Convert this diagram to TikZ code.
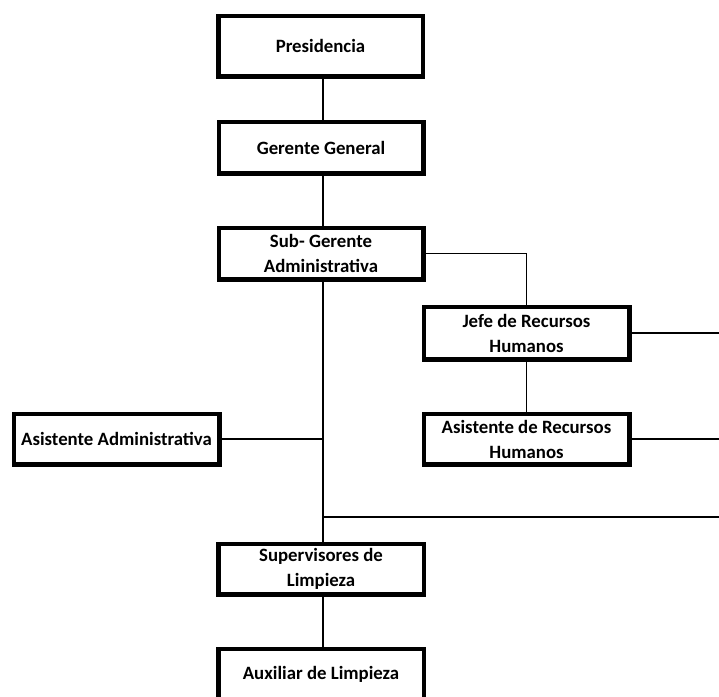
\documentclass[tikz,border=0pt]{standalone}
\usepackage{fontspec}
\setmainfont{Carlito}
\begin{document}
\begin{tikzpicture}[x=1pt,y=-1pt,
  post/.style={draw=black, line width=3pt, fill=white, inner sep=0pt,
    align=center, font=\bfseries\fontsize{18.8}{25}\selectfont,
    minimum width=#1},
  post/.default=203pt,
  link/.style={draw=black, line width=1.3pt}]
\useasboundingbox (0,0) rectangle (719,696);
\clip (0,0) rectangle (719,696);

% boxes of the chart
\node[post, minimum height=59pt] (pres) at (320.5,46) {Presidencia};
\node[post, minimum height=50pt] (gg) at (321,147.5) {Gerente General};
\node[post, minimum height=50pt] (sg) at (321,253.5) {Sub- Gerente\\Administrativa};
\node[post=204pt, minimum height=51pt] (jefe) at (526.5,333) {Jefe de Recursos\\Humanos};
\node[post=204pt, minimum height=49pt] (arh) at (526.5,439) {Asistente de Recursos\\Humanos};
\node[post=204pt, minimum height=49pt] (aa) at (116.5,439) {Asistente Administrativa};
\node[post=204pt, minimum height=49pt] (sup) at (321,569) {Supervisores de\\Limpieza};
\node[post=204pt, minimum height=50pt] (aux) at (321,674.5) {Auxiliar de Limpieza};

% trunk and free ends at the right edge
\coordinate (trunk) at (323,0);
\coordinate (edge) at (719,0);
\coordinate (split) at (323,517);

\draw[link] (pres.south -| trunk) -- (gg.north -| trunk);
\draw[link] (gg.south -| trunk) -- (sg.north -| trunk);
\draw[link] (sg.south -| trunk) -- (sup.north -| trunk);
\draw[link] (sup.south -| trunk) -- (aux.north -| trunk);
\draw[link] (sg.east) -| (jefe.north);
\draw[link] (jefe.south) -- (arh.north);
\draw[link] (jefe.east) -- (jefe.east -| edge);
\draw[link] (arh.east) -- (arh.east -| edge);
\draw[link] (aa.east) -- (aa.east -| trunk);
\draw[link] (split) -- (split -| edge);

% redraw box outlines over the connector ends
\foreach \n in {pres,gg,sg,jefe,arh,aa,sup,aux}
  \draw[line width=3pt] (\n.north west) rectangle (\n.south east);
\end{tikzpicture}
\end{document}
